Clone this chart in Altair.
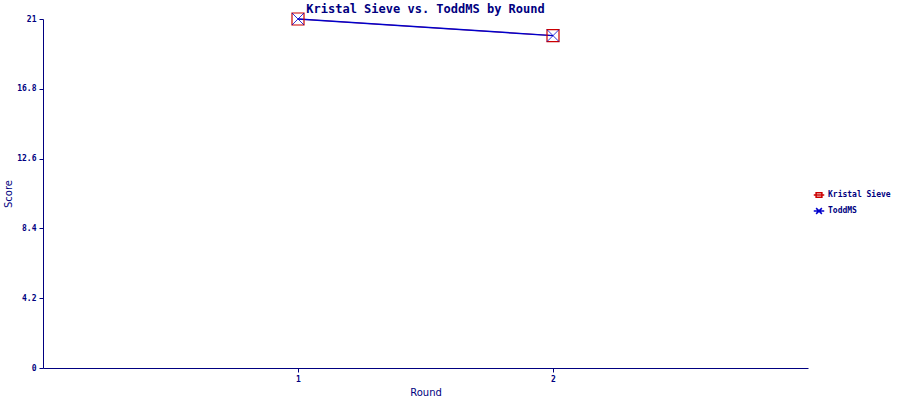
import altair as alt
import pandas as pd

rounds = [1, 2]
kristal = [21, 20]
todd = [21, 20]
series = ["Kristal Sieve", "ToddMS"]
colors = ["#CC0000", "#0000CC"]
y_ticks = [0, 4.2, 8.4, 12.6, 16.8, 21]
x_ticks = [1, 2]

df = pd.DataFrame({
    "Round": rounds + rounds,
    "Score": kristal + todd,
    "Player": [series[0]] * len(rounds) + [series[1]] * len(rounds),
})

NAVY = "#000080"
SQUARE = "M-1,-1L1,-1L1,1L-1,1Z"
XONLY = "M-1,-1L1,1M-1,1L1,-1"
LEG_SQ = "M-1,0L1,0M-0.55,-0.45L0.55,-0.45L0.55,0.45L-0.55,0.45Z"
LEG_X = "M-1,0L1,0M-0.55,-0.55L0.55,0.55M-0.55,0.55L0.55,-0.55"

x = alt.X("Round:Q", title="Round",
          scale=alt.Scale(domain=[0, 3], nice=False, zero=False),
          axis=alt.Axis(values=x_ticks, format="d", grid=False, domainColor=NAVY,
                        tickColor=NAVY, tickSize=4, labelColor=NAVY,
                        labelFont="DejaVu Sans Mono", labelFontWeight="bold",
                        labelFontSize=8, labelPadding=3, titleColor=NAVY,
                        titleFont="DejaVu Sans", titleFontSize=10, titleFontWeight="normal",
                        titlePadding=4))
y = alt.Y("Score:Q", title="Score",
          scale=alt.Scale(domain=[0, 21], nice=False),
          axis=alt.Axis(values=y_ticks, format=".3~g", grid=False, domainColor=NAVY,
                        tickColor=NAVY, tickSize=4, labelColor=NAVY,
                        labelFont="DejaVu Sans Mono", labelFontWeight="bold",
                        labelFontSize=8, labelPadding=3, titleColor=NAVY,
                        titleFont="DejaVu Sans", titleFontSize=10, titleFontWeight="normal",
                        titleX=-30, titlePadding=10))

base = alt.Chart(df)

lines_k = base.transform_filter(alt.datum.Player == series[0]).mark_line(
    strokeWidth=0.8, color=colors[0]).encode(x=x, y=y)
lines_t = base.transform_filter(alt.datum.Player == series[1]).mark_line(
    strokeWidth=1.4, color=colors[1]).encode(x=x, y=y)

pts_k = base.transform_filter(alt.datum.Player == series[0]).mark_point(
    shape=SQUARE, size=144, filled=False, stroke=colors[0], strokeWidth=1.2, opacity=1
).encode(x=x, y=y)

pts_t = base.transform_filter(alt.datum.Player == series[1]).mark_point(
    shape=XONLY, size=144, filled=False, stroke=colors[1], strokeWidth=0.8, opacity=1
).encode(x=x, y=y)

leg = alt.Legend(title=None, orient="none", legendX=770, legendY=170,
                 symbolSize=110, symbolStrokeWidth=1.5,
                 labelFont="DejaVu Sans Mono", labelFontSize=8,
                 labelFontWeight="bold", labelColor=NAVY,
                 rowPadding=4, labelOffset=3)

legend_layer = base.transform_filter("false").mark_point(
    filled=False, size=110, strokeWidth=1.5, opacity=1).encode(
    x=x, y=y,
    stroke=alt.Stroke("Player:N", scale=alt.Scale(domain=series, range=colors), legend=leg),
    shape=alt.Shape("Player:N", scale=alt.Scale(domain=series, range=[LEG_SQ, LEG_X]), legend=leg),
)

chart = alt.layer(lines_k, lines_t, pts_k, pts_t, legend_layer).properties(
    width=765, height=349,
    title=alt.Title("Kristal Sieve vs. ToddMS by Round", font="DejaVu Sans Mono",
                    fontSize=12, fontWeight="bold", color=NAVY, anchor="middle",
                    offset=4, dy=9),
    autosize=alt.AutoSizeParams(type="none"),
    padding={"left": 43, "top": 19, "right": 92, "bottom": 32},
    background="white",
).configure_view(stroke=None)

chart.save("out.html", embed_options={"renderer": "svg", "actions": False})
